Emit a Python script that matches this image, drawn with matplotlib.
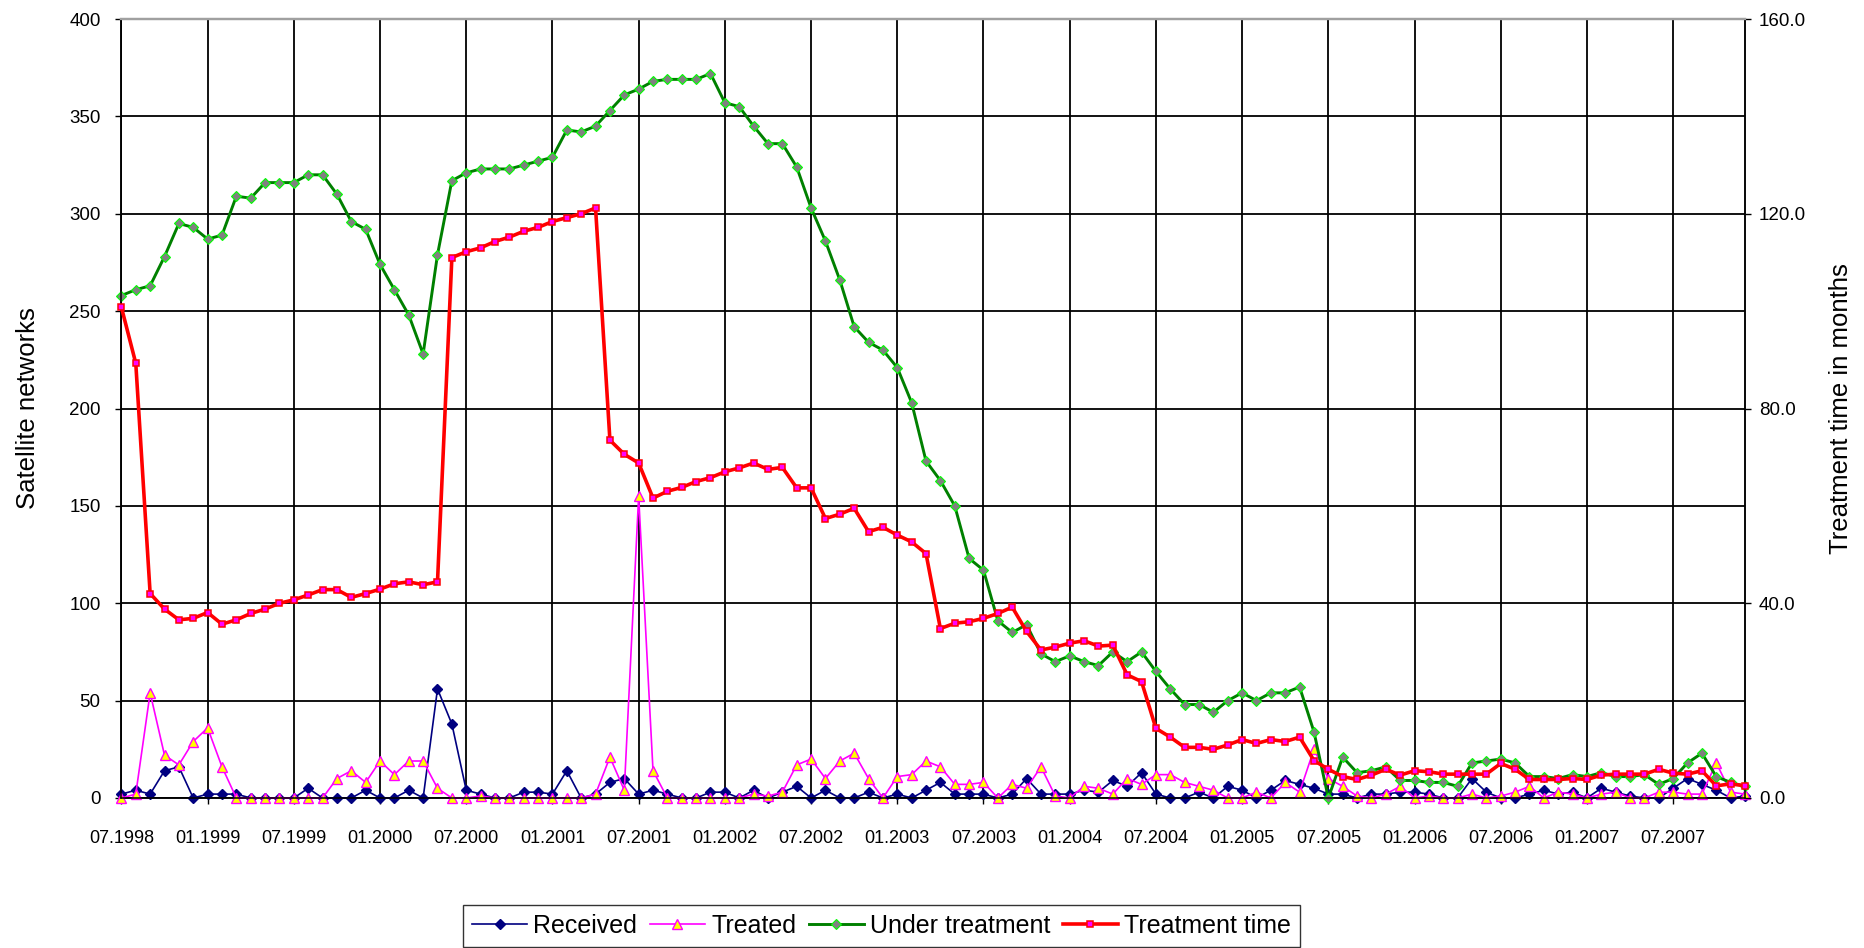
import matplotlib
matplotlib.use("Agg")
import matplotlib.pyplot as plt

plt.rcParams['font.family'] = ['Liberation Sans', 'DejaVu Sans']

# ---------------- data (monthly, 07.1998 .. 12.2007) ----------------
received = [
    2, 4, 2, 14, 16, 0, 2, 2, 2, 0, 0, 0,
    0, 5, 0, 0, 0, 4, 0, 0, 4, 0, 56, 38,
    4, 2, 0, 0, 3, 3, 2, 14, 0, 2, 8, 10,
    2, 4, 2, 0, 0, 3, 3, 0, 4, 0, 3, 6,
    0, 4, 0, 0, 3, 0, 2, 0, 4, 8, 2, 2,
    2, 0, 2, 10, 2, 2, 2, 4, 3, 9, 6, 13,
    2, 0, 0, 3, 0, 6, 4, 0, 4, 9, 7, 5,
    2, 2, 0, 2, 2, 3, 3, 2, 0, 0, 10, 3,
    0, 0, 2, 4, 2, 3, 0, 5, 3, 1, 0, 0,
    5, 10, 7, 4, 0, 1,
]
treated = [
    0, 2, 54, 22, 17, 29, 36, 16, 0, 0, 0, 0,
    0, 0, 0, 10, 14, 8, 19, 12, 19, 19, 5, 0,
    0, 1, 0, 0, 0, 0, 0, 0, 0, 2, 21, 4,
    155, 14, 0, 0, 0, 0, 0, 0, 2, 1, 3, 17,
    20, 10, 19, 23, 10, 0, 11, 12, 19, 16, 7, 7,
    8, 0, 7, 5, 16, 1, 0, 6, 5, 2, 10, 7,
    12, 12, 8, 6, 4, 0, 0, 3, 0, 8, 3, 25,
    10, 6, 1, 0, 2, 6, 0, 1, 0, 0, 2, 0,
    1, 3, 6, 0, 3, 2, 0, 2, 3, 0, 0, 3,
    3, 2, 2, 18, 3, 2,
]
under_treatment = [
    258, 261, 263, 278, 295, 293, 287, 289, 309, 308, 316, 316,
    316, 320, 320, 310, 296, 292, 274, 261, 248, 228, 279, 317,
    321, 323, 323, 323, 325, 327, 329, 343, 342, 345, 353, 361,
    364, 368, 369, 369, 369, 372, 357, 355, 345, 336, 336, 324,
    303, 286, 266, 242, 234, 230, 221, 203, 173, 163, 150, 123,
    117, 91, 85, 89, 74, 70, 73, 70, 68, 75, 70, 75,
    65, 56, 48, 48, 44, 50, 54, 50, 54, 54, 57, 34,
    0, 21, 13, 14, 16, 9, 9, 8, 8, 6, 18, 19,
    20, 18, 11, 11, 10, 12, 11, 13, 11, 11, 12, 7,
    10, 18, 23, 11, 8, 6,
]
treatment_time = [
    100.8, 89.3, 42.0, 38.8, 36.6, 36.9, 38.1, 35.7, 36.6, 37.9, 38.8, 40.0,
    40.7, 41.7, 42.8, 42.8, 41.2, 42.0, 42.9, 44.0, 44.4, 43.8, 44.4, 111.0,
    112.2, 113.0, 114.3, 115.2, 116.4, 117.2, 118.4, 119.2, 120.0, 121.2, 73.5, 70.6,
    68.8, 61.6, 63.0, 63.8, 65.0, 65.8, 67.0, 67.8, 68.8, 67.5, 67.9, 63.7,
    63.7, 57.4, 58.3, 59.5, 54.7, 55.6, 54.0, 52.6, 50.2, 34.8, 35.9, 36.2,
    36.9, 37.9, 39.2, 34.2, 30.4, 31.0, 31.8, 32.3, 31.2, 31.4, 25.3, 23.9,
    14.3, 12.5, 10.4, 10.4, 10.0, 10.9, 12.0, 11.2, 12.0, 11.6, 12.5, 7.7,
    5.9, 4.4, 3.8, 4.7, 5.9, 4.7, 5.6, 5.4, 4.9, 4.9, 4.9, 4.9,
    7.1, 5.9, 3.8, 3.8, 3.8, 4.0, 3.8, 4.7, 4.9, 4.9, 4.9, 5.9,
    5.1, 4.9, 5.6, 2.5, 2.9, 2.5,
]
tick_labels = [
    "07.1998", "01.1999", "07.1999", "01.2000", "07.2000", "01.2001",
    "07.2001", "01.2002", "07.2002", "01.2003", "07.2003", "01.2004",
    "07.2004", "01.2005", "07.2005", "01.2006", "07.2006", "01.2007",
    "07.2007",
]
right_ticks = [0, 40, 80, 120, 160]
series_names = ["Received", "Treated", "Under treatment", "Treatment time"]

# ---------------- figure ----------------
W, H = 1865, 948
fig = plt.figure(figsize=(W / 100, H / 100), dpi=100)
L, R, T, B = 121.4, 1745.0, 19.0, 798.0
ax = fig.add_axes([L / W, 1 - B / H, (R - L) / W, (B - T) / H])
ax2 = ax.twinx()

x = list(range(len(received)))

l_rec, = ax.plot(x, received, color='#000080', lw=1.2, marker='D', ms=5.4,
                 mfc='#000080', mec='#000080', clip_on=False, zorder=3)
l_tre, = ax.plot(x, treated, color='#FF00FF', lw=1.2, marker='^', ms=7.2,
                 mfc='#FFFF00', mec='#FF00FF', mew=1.0, clip_on=False, zorder=4)
l_und, = ax.plot(x, under_treatment, color='#008000', lw=2.1, marker='D', ms=5.6,
                 mfc='#808080', mec='#00FF00', mew=0.8, clip_on=False, zorder=5)
l_tt, = ax2.plot(x, treatment_time, color='#FF0000', lw=2.6, marker='s', ms=3.8,
                 mfc='#FF00FF', mec='#FF0000', mew=1.1, clip_on=False, zorder=5)

ax.set_xlim(0, len(received) - 1)
ax.set_ylim(0, 400)
ax2.set_ylim(0, 160)

ax.set_xticks(list(range(0, len(received), 6)))
ax.set_xticklabels(tick_labels)
ax.set_yticks(list(range(0, 401, 50)))
ax2.set_yticks(right_ticks)
ax2.set_yticklabels([f"{v:.1f}" for v in right_ticks])

ax.grid(True, color='black', lw=1.3)
ax.set_axisbelow(True)

ax.tick_params(axis='x', direction='out', length=4, width=1, pad=19, labelsize=13)
ax.tick_params(axis='y', direction='out', length=4, width=1, pad=11, labelsize=13.5)
ax2.tick_params(axis='y', direction='out', length=4, width=1, pad=6, labelsize=13.5)

for a in (ax, ax2):
    a.spines['top'].set_color('#a0a0a0')
    a.spines['top'].set_linewidth(1.6)
    for s in ('left', 'bottom', 'right'):
        a.spines[s].set_color('black')
        a.spines[s].set_linewidth(1.1)

ax.set_ylabel("Satellite networks", fontsize=18.5)
ax2.set_ylabel("Treatment time in months", fontsize=18.5)
ax.yaxis.set_label_coords((40 - L) / (R - L), 0.5)
ax2.yaxis.set_label_coords((1829 - L) / (R - L), 0.5)

handles = [l_rec, l_tre, l_und, l_tt]
leg = fig.legend(handles, series_names, loc='upper center',
                 bbox_to_anchor=((458 + 1305) / 2 / W, 1 - 905 / H),
                 ncol=4, frameon=True, fancybox=False, edgecolor='black',
                 fontsize=18, handlelength=2.2, handletextpad=0.25,
                 columnspacing=0.5, borderpad=0.35, borderaxespad=0)
leg.get_frame().set_linewidth(1.0)

fig.savefig("out.png", dpi=100)
